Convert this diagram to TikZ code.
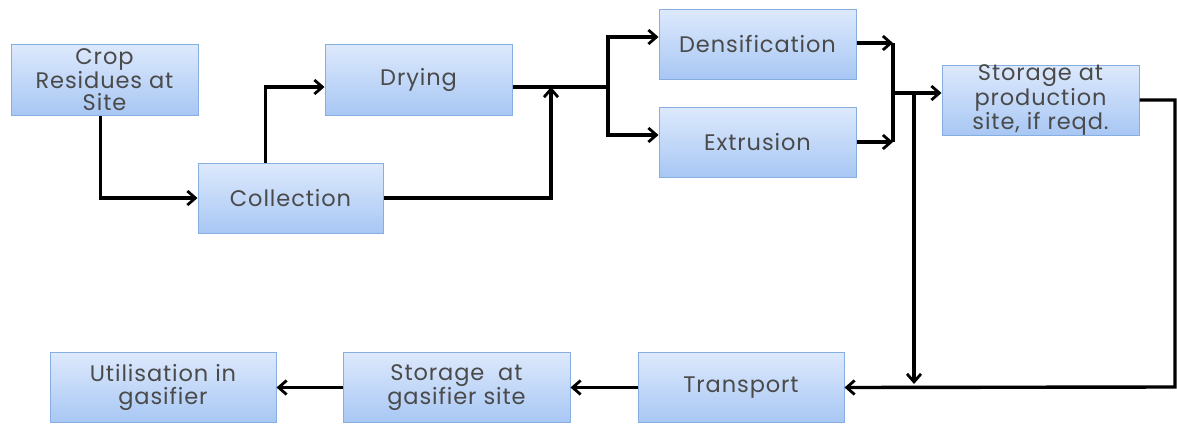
\documentclass[tikz,border=0pt]{standalone}
\usepackage{fontspec}
\setmainfont{Poppins}[LetterSpace=4]
\usetikzlibrary{arrows.meta}
\definecolor{txt}{HTML}{4A4A4A}
\definecolor{boxtop}{HTML}{DDE9FC}
\definecolor{boxbot}{HTML}{A8C7F4}
\definecolor{boxline}{HTML}{86AEE0}
\tikzset{
  box/.style={draw=boxline, line width=1pt, top color=boxtop, bottom color=boxbot,
    text=txt, align=center, inner sep=0pt,
    font=\fontsize{22.5}{22.5}\selectfont},
  conn/.style={line width=3.4pt, black},
  arr/.style={conn, -{Straight Barb[length=8pt,width=14pt,line width=2.8pt]}},
}
\begin{document}
\begin{tikzpicture}[x=1pt,y=-1pt]
\useasboundingbox (0,0) rectangle (1177,423);
\node[box, minimum width=187, minimum height=71] (crop) at (104.5,79.5) {Crop\\Residues at\\Site};
\node[box, minimum width=185, minimum height=70] (coll) at (290.5,198) {Collection};
\node[box, minimum width=187, minimum height=71] (dry) at (418.5,79.5) {Drying};
\node[box, minimum width=197, minimum height=70] (dens) at (757.5,44) {Densification};
\node[box, minimum width=197, minimum height=70] (ext) at (757.5,142) {Extrusion};
\node[box, minimum width=197, minimum height=70] (sp) at (1040.5,100) {Storage at\\production\\site, if reqd.};
\node[box, minimum width=206, minimum height=70] (tr) at (741,387.5) {Transport};
\node[box, minimum width=227, minimum height=70] (sg) at (456.5,387.5) {Storage~~at\\gasifier site};
\node[box, minimum width=226, minimum height=70] (ut) at (163,387.5) {Utilisation in\\gasifier};

\coordinate (m) at (551,87);
\coordinate (s) at (608,87);
\coordinate (r1) at (893,43);
\coordinate (r2) at (893,142);
\coordinate (r3) at (893,93);
\coordinate (r4) at (914,93);
\coordinate (r5) at (914,384);
\coordinate (rb) at (1175,387);

\draw[arr] ([xshift=-4]crop.south) |- (coll.west);
\draw[arr] ([xshift=-25]coll.north) |- ([yshift=-7.5]dry.west);
\draw[conn] ([yshift=-7.5]dry.east) -- (s);
\draw[arr] (coll.east) -| (m);
\draw[arr] (s) |- ([yshift=7]dens.west);
\draw[arr] (s) |- ([yshift=7]ext.west);
\draw[arr] ([yshift=1]dens.east) -- (r1);
\draw[arr] (ext.east) -- (r2);
\draw[conn] (r1) -- (r2);
\draw[arr] (r3) -- ([yshift=7]sp.west);
\draw[arr] (r4) -- (r5);
\draw[arr] (sp.east) -| (rb) -- (tr.east);
\draw[arr] (tr.west) -- (sg.east);
\draw[arr] (sg.west) -- (ut.east);
\end{tikzpicture}
\end{document}
